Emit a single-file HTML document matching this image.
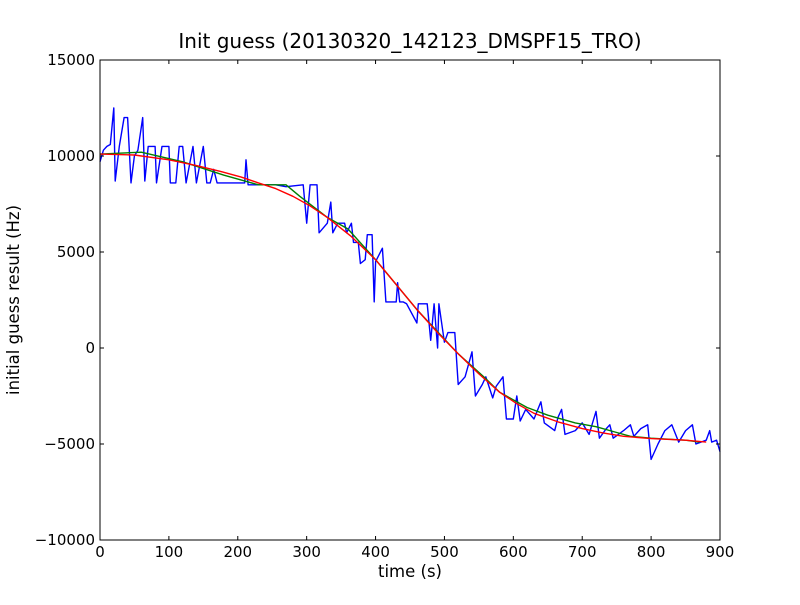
<!DOCTYPE html>
<html><head><meta charset="utf-8"><style>
body{margin:0;background:#fff}
svg text{font-family:"DejaVu Sans","Liberation Sans",sans-serif;fill:#000}
</style></head><body>
<svg id="c" width="800" height="600" xmlns="http://www.w3.org/2000/svg"></svg>
<script>
const xTicks=[0,100,200,300,400,500,600,700,800,900];
const yTicks=[-10000,-5000,0,5000,10000,15000];
const blueT=[0,5,10,15,20,22,28,35,40,45,50,55,62,65,70,80,82,90,100,102,110,115,120,125,135,140,150,155,160,165,170,210,212,215,240,255,270,295,300,305,315,318,330,335,338,345,355,358,365,368,375,378,385,388,395,398,400,410,415,430,432,435,440,445,460,462,475,480,482,485,490,492,500,505,515,520,530,540,545,555,560,570,575,585,590,600,605,610,618,630,640,645,660,665,670,675,690,700,710,720,725,735,740,745,760,770,775,785,795,800,810,820,830,840,850,860,865,880,885,888,895,900];
const blueV=[9700,10300,10500,10600,12500,8700,10500,12000,12000,8600,10000,10300,12000,8700,10500,10500,8600,10500,10500,8600,8600,10500,10500,8600,10500,8600,10500,8600,8600,9300,8600,8600,9800,8500,8500,8500,8400,8500,6500,8500,8500,6000,6500,7600,6000,6500,6500,6000,6500,5500,5500,4400,4600,5900,5900,2400,4500,5200,2400,2400,3400,2400,2400,2300,1300,2300,2300,400,1100,2300,0,2300,300,800,800,-1900,-1500,-200,-2500,-1900,-1500,-2600,-2000,-1500,-3700,-3700,-2500,-3800,-3200,-3700,-2800,-3900,-4300,-3600,-3200,-4500,-4300,-3900,-4500,-3300,-4700,-4200,-4000,-4700,-4300,-4000,-4600,-4200,-4000,-5800,-5000,-4300,-4000,-4900,-4300,-4000,-5000,-4800,-4300,-4900,-4800,-5400];
const greenT=[0,60,120,180,230,270,290,330,360,400,460,520,560,580,620,650,690,720,750,770,800,850,870];
const greenV=[10100,10200,9700,9000,8500,8500,7900,6800,6200,4600,2000,-300,-1600,-2300,-3100,-3500,-3900,-4100,-4400,-4600,-4700,-4800,-4900];
const redT=[0,50,100,140,175,205,230,255,280,305,330,365,400,430,460,490,520,550,580,605,630,665,700,730,760,800,850,880];
const redV=[10100,10050,9800,9500,9200,8900,8600,8300,7900,7400,6800,5800,4600,3300,2000,800,-300,-1350,-2300,-2900,-3400,-3850,-4200,-4420,-4600,-4720,-4800,-4900];
const L=100,R=720,T=60,B=540;
const sx=v=>L+(v-0)/900*(R-L), sy=v=>T+(15000-v)/25000*(B-T);
const NS="http://www.w3.org/2000/svg", svg=document.getElementById('c');
function mk(tag,a,p){const e=document.createElementNS(NS,tag);for(const k in a)e.setAttribute(k,a[k]);(p||svg).appendChild(e);return e;}
const box=mk('rect',{x:L,y:T,width:R-L,height:B-T,fill:'#fff',stroke:'none'});


function line(ts,vs,col,name){const d=ts.map((t,i)=>(i?'L':'M')+sx(t).toFixed(1)+','+sy(vs[i]).toFixed(1)).join('');
const p=mk('path',{d:d,fill:'none',stroke:col,'stroke-width':1.4,'stroke-linejoin':'round'});

}
line(blueT,blueV,'#0000ff','raw-series-line');
line(greenT,greenV,'#008000','smoothed-series-line');
line(redT,redV,'#ff0000','fit-series-line');
const fr=mk('rect',{x:L,y:T,width:R-L,height:B-T,fill:'none',stroke:'#000','stroke-width':1});


xTicks.forEach(v=>{const x=sx(v);
mk('line',{x1:x,x2:x,y1:B,y2:B-4,stroke:'#000'});mk('line',{x1:x,x2:x,y1:T,y2:T+4,stroke:'#000'});
const t=mk('text',{x:x,y:B+17,'text-anchor':'middle','font-size':15});t.textContent=v;

});
yTicks.forEach(v=>{const y=sy(v);
mk('line',{x1:L,x2:L+4,y1:y,y2:y,stroke:'#000'});mk('line',{x1:R,x2:R-4,y1:y,y2:y,stroke:'#000'});
const t=mk('text',{x:L-5,y:y+5,'text-anchor':'end','font-size':15});t.textContent=v<0?'\u2212'+(-v):v;

});
const xt=mk('text',{x:410,y:577,'text-anchor':'middle','font-size':16.5});xt.textContent='time (s)';


const yt=mk('text',{x:19,y:300,'text-anchor':'middle','font-size':16.5,transform:'rotate(-90 19 300)'});yt.textContent='initial guess result (Hz)';


const ti=mk('text',{x:410,y:48,'text-anchor':'middle','font-size':20});ti.textContent='Init guess (20130320_142123_DMSPF15_TRO)';


</script>
</body></html>
